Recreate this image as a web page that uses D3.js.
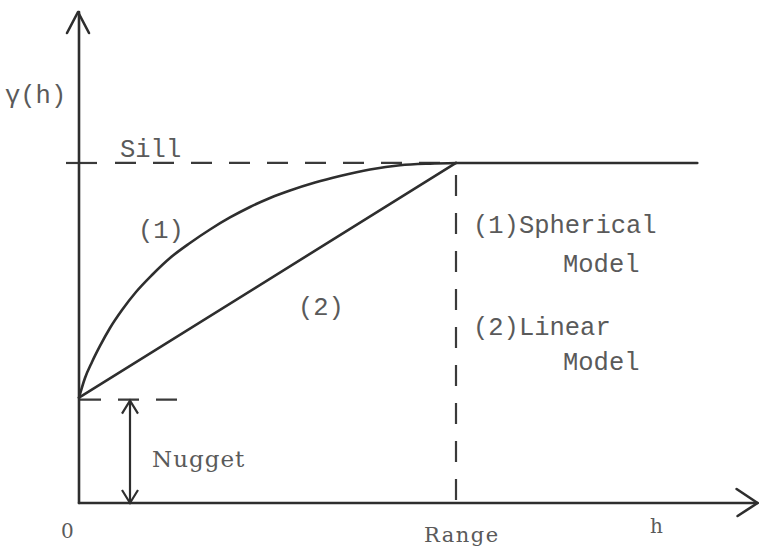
<!DOCTYPE html>
<html>
<head>
<meta charset="utf-8">
<script src="https://cdn.jsdelivr.net/npm/d3@7"></script>
<style>
  html, body { margin: 0; padding: 0; background: #fff; }
  svg { display: block; }
  .mono { font-family: "Liberation Mono", "DejaVu Sans Mono", monospace; font-size: 25.5px; fill: #5a5a5a; }
  .serif { font-family: "DejaVu Serif", "Liberation Serif", serif; fill: #5a5a5a; }
</style>
</head>
<body>
<svg id="chart" width="760" height="551"></svg>
<script>
// Semivariogram model parameters (lag h in units of the range, gamma in units of the sill)
const nugget = 0.31;
const sill = 1.0;
const range = 1.0;
const hMax = 1.8;        // end of the h axis
const gammaMax = 1.444;  // end of the gamma axis
const plateauEnd = 1.64; // where the sill plateau stops

// (1) spherical model curve, read as (h, gamma) pairs
const sphericalH =     [0, 0.0159, 0.0345, 0.0557, 0.0822, 0.1141, 0.1512, 0.1936, 0.2414, 0.2944, 0.3475, 0.4005, 0.4536, 0.5066, 0.5597, 0.626, 0.6923, 0.7719, 0.8515, 0.931, 1.0];
const sphericalGamma = [0.31, 0.3676, 0.4147, 0.4618, 0.5147, 0.5676, 0.6206, 0.6706, 0.7206, 0.7647, 0.8044, 0.8397, 0.8706, 0.8971, 0.9191, 0.9426, 0.9618, 0.9809, 0.9935, 0.9982, 1.0];

// (2) linear model
const linearH = [0, 1.0];
const linearGamma = [0.31, 1.0];

// sill plateau beyond the range
const plateauH = [1.0, plateauEnd];
const plateauGamma = [1.0, 1.0];

const svg = d3.select("#chart");
const ink = "#2e2e2e";

const x = d3.scaleLinear().domain([0, hMax]).range([79, 757.6]);
const y = d3.scaleLinear().domain([0, gammaMax]).range([503, 12]);

const line = d3.line().x(d => x(d[0])).y(d => y(d[1]));

// reference dashed guides: sill, range, nugget
const dash = "21 17";
svg.append("line")
  .attr("x1", 66).attr("x2", 97)
  .attr("y1", y(sill)).attr("y2", y(sill))
  .attr("stroke", "#3a3a3a").attr("stroke-width", 2.2);
svg.append("line")
  .attr("x1", 115).attr("x2", x(range) - 4)
  .attr("y1", y(sill)).attr("y2", y(sill))
  .attr("stroke", "#3a3a3a").attr("stroke-width", 2.2)
  .attr("stroke-dasharray", dash);
svg.append("line")
  .attr("x1", x(range)).attr("x2", x(range))
  .attr("y1", 175).attr("y2", y(0))
  .attr("stroke", "#3a3a3a").attr("stroke-width", 2.2)
  .attr("stroke-dasharray", dash);
svg.append("line")
  .attr("x1", 80).attr("x2", 178)
  .attr("y1", y(nugget) + 2).attr("y2", y(nugget) + 2)
  .attr("stroke", "#3a3a3a").attr("stroke-width", 2.2)
  .attr("stroke-dasharray", dash);

// axes with open arrowheads
const axes = svg.append("g").attr("stroke", ink).attr("stroke-width", 2.6)
  .attr("fill", "none").attr("stroke-linecap", "round").attr("stroke-linejoin", "round");
axes.append("line").attr("x1", x(0)).attr("y1", y(0)).attr("x2", x(0)).attr("y2", y(gammaMax));
axes.append("path").attr("d", `M${x(0) - 12},${y(gammaMax) + 21} L${x(0) - 1},${y(gammaMax)} L${x(0) + 10},${y(gammaMax) + 21}`);
axes.append("line").attr("x1", x(0)).attr("y1", y(0)).attr("x2", x(hMax)).attr("y2", y(0));
axes.append("path").attr("d", `M${x(hMax) - 21},${y(0) - 14} L${x(hMax)},${y(0)} L${x(hMax) - 20},${y(0) + 13}`);

// model curves
const curves = svg.append("g").attr("stroke", ink).attr("stroke-width", 2.6).attr("fill", "none")
  .attr("stroke-linecap", "round");
curves.append("path")
  .attr("d", line.curve(d3.curveMonotoneX)(sphericalH.map((h, i) => [h, sphericalGamma[i]])));
curves.append("path")
  .attr("d", d3.line().x(d => x(d[0])).y(d => y(d[1]))(linearH.map((h, i) => [h, linearGamma[i]])));
curves.append("path")
  .attr("d", d3.line().x(d => x(d[0])).y(d => y(d[1]))(plateauH.map((h, i) => [h, plateauGamma[i]])));

// nugget double-headed arrow
const arrowX = 130;
const arrowTop = y(nugget) + 3, arrowBot = y(0);
const arr = svg.append("g").attr("stroke", ink).attr("stroke-width", 2.2).attr("fill", "none");
arr.append("line").attr("x1", arrowX).attr("x2", arrowX).attr("y1", arrowTop).attr("y2", arrowBot);
arr.append("path").attr("d", `M${arrowX - 8},${arrowTop + 13} L${arrowX},${arrowTop} L${arrowX + 8},${arrowTop + 13}`);
arr.append("path").attr("d", `M${arrowX - 8},${arrowBot - 13} L${arrowX},${arrowBot} L${arrowX + 8},${arrowBot - 13}`);

// labels
const mono = [
  { t: "γ(h)", x: 5, y: 103 },
  { t: "Sill", x: 120, y: 157 },
  { t: "(1)", x: 138, y: 238 },
  { t: "(2)", x: 298, y: 315 },
  { t: "(1)Spherical", x: 473, y: 233 },
  { t: "Model", x: 563, y: 272 },
  { t: "(2)Linear", x: 473, y: 335 },
  { t: "Model", x: 563, y: 370 }
];
svg.selectAll("text.mono").data(mono).join("text")
  .attr("class", "mono").attr("x", d => d.x).attr("y", d => d.y).text(d => d.t);

const serif = [
  { t: "Nugget", x: 152, y: 467, s: 23, ls: 1 },
  { t: "0", x: 61, y: 538, s: 20, ls: 0 },
  { t: "Range", x: 424, y: 542, s: 21, ls: 1.5 },
  { t: "h", x: 650, y: 533, s: 20, ls: 0 }
];
svg.selectAll("text.serif").data(serif).join("text")
  .attr("class", "serif").attr("x", d => d.x).attr("y", d => d.y)
  .attr("font-size", d => d.s).attr("letter-spacing", d => d.ls).text(d => d.t);
</script>
</body>
</html>
